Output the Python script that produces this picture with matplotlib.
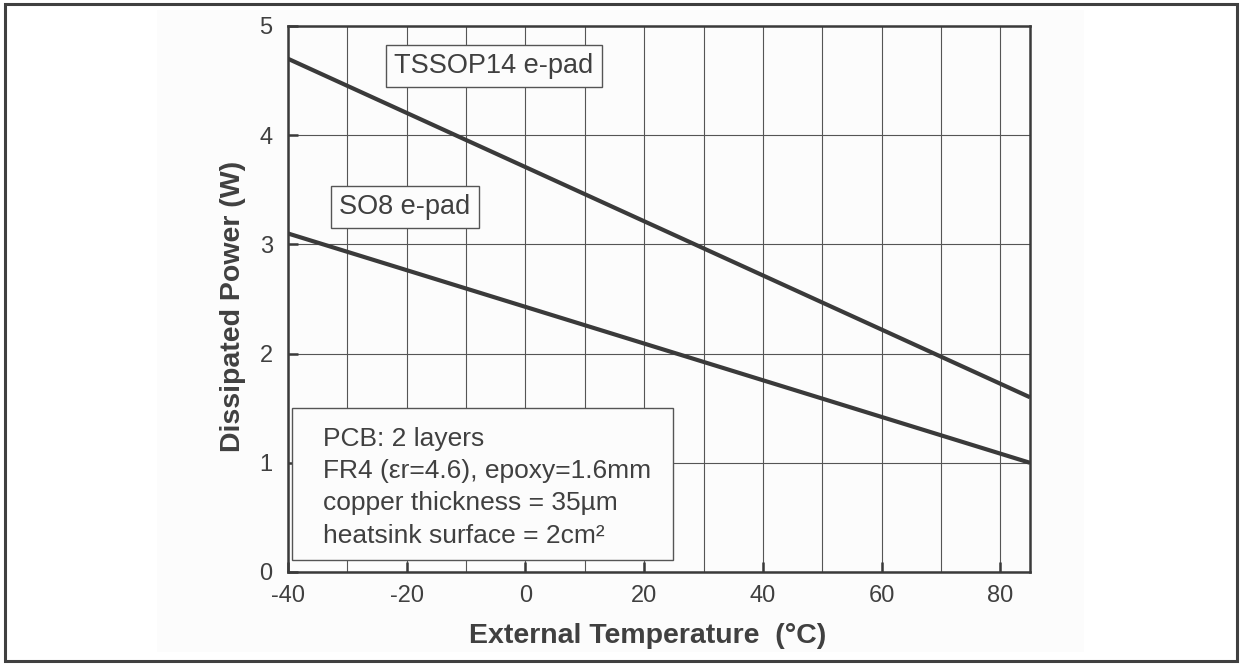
import matplotlib.pyplot as plt
from matplotlib.patches import Rectangle
from matplotlib.ticker import MultipleLocator

plt.rcParams['font.family'] = ['Liberation Sans', 'DejaVu Sans']
plt.rcParams['axes.unicode_minus'] = False

temp = [-40, 85]
tssop14 = [4.7, 1.6]
so8 = [3.1, 1.0]
x_ticks = [-40, -20, 0, 20, 40, 60, 80]
y_ticks = [0, 1, 2, 3, 4, 5]
info_lines = ["PCB: 2 layers",
              "FR4 (\u03b5r=4.6), epoxy=1.6mm",
              "copper thickness = 35\u00b5m",
              "heatsink surface = 2cm\u00b2"]

W, H = 1246, 672
fig = plt.figure(figsize=(W / 100, H / 100), dpi=100)
fig.patch.set_facecolor('white')

# light panel + outer frame (panel sits below the axes)
fig.patches.append(Rectangle((157 / W, 1 - 652 / H), (1084 - 157) / W, (652 - 10) / H,
                             transform=fig.transFigure, facecolor='#fcfcfc', edgecolor='none', zorder=-1))
fig.patches.append(Rectangle((5 / W, 1 - 661 / H), (1237 - 5) / W, (661 - 4) / H,
                             transform=fig.transFigure, facecolor='none', edgecolor='#404040',
                             linewidth=2.2, zorder=1))

ax = fig.add_axes([288 / W, 1 - 572 / H, (1030 - 288) / W, (572 - 26) / H])
ax.set_facecolor('#fcfcfc')
dark = '#3a3a3a'
txt = '#404040'

ax.set_xlim(-40, 85)
ax.set_ylim(0, 5)
ax.set_xticks(x_ticks)
ax.set_yticks(y_ticks)
ax.xaxis.set_minor_locator(MultipleLocator(10))
ax.grid(True, which='major', color='#555555', linewidth=0.8)
ax.grid(True, which='minor', axis='x', color='#555555', linewidth=0.8)
ax.tick_params(which='major', direction='in', length=7, width=1.8, color=dark,
               labelsize=17, labelcolor=txt)
ax.tick_params(axis='x', pad=9)
ax.tick_params(axis='y', pad=11)
ax.tick_params(which='minor', length=0)
for s in ax.spines.values():
    s.set_color(dark)
    s.set_linewidth(1.8)

ax.plot(temp, tssop14, color=dark, linewidth=3, solid_capstyle='butt', zorder=3)
ax.plot(temp, so8, color=dark, linewidth=3, solid_capstyle='butt', zorder=3)

box = dict(boxstyle='square,pad=0.3', facecolor='#fcfcfc', edgecolor='#555555', linewidth=1)
ax.text(-5.3, 4.634, "TSSOP14 e-pad", fontsize=19.5, color=txt, ha='center', va='center',
        bbox=box, zorder=4)
ax.text(-20.3, 3.343, "SO8 e-pad", fontsize=19.5, color=txt, ha='center', va='center',
        bbox=box, zorder=4)

# info box
ax.add_patch(Rectangle(((292 - 288) / 742, (572 - 560) / 546), (673 - 292) / 742, (560 - 408) / 546,
                       transform=ax.transAxes, facecolor='#fcfcfc', edgecolor='#555555',
                       linewidth=1, zorder=4))
ax.text((323 - 288) / 742, (572 - 427) / 546, "\n".join(info_lines), transform=ax.transAxes,
        fontsize=19, color=txt, ha='left', va='top', linespacing=1.43, zorder=5)

ax.set_xlabel("External Temperature  (\u00b0C)", fontsize=20.5, fontweight='bold', color=txt, labelpad=12)
ax.set_ylabel("Dissipated Power (W)", fontsize=20.5, fontweight='bold', color=txt, labelpad=10)
ax.xaxis.label.set_x(0.485)
ax.yaxis.label.set_y(0.487)

fig.savefig('out.png', dpi=100)
